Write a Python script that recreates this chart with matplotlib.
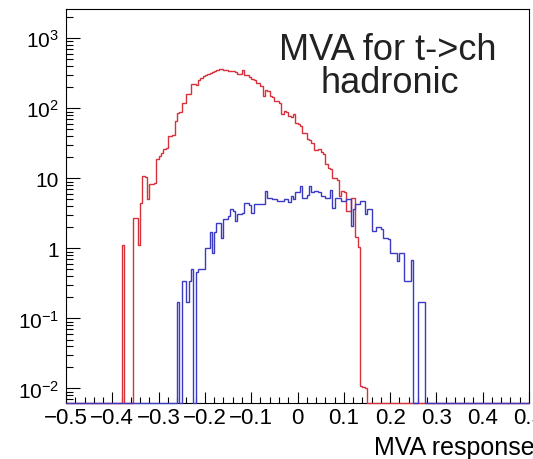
import numpy as np
import matplotlib
matplotlib.use("Agg")
import matplotlib.pyplot as plt
from matplotlib.ticker import FixedLocator, NullFormatter

plt.rcParams['font.family'] = ['Liberation Sans', 'DejaVu Sans']
plt.rcParams['mathtext.fontset'] = 'custom'
plt.rcParams['mathtext.rm'] = 'Liberation Sans'
plt.rcParams['mathtext.default'] = 'regular'

# binning of the MVA output histograms
n_bins = 200
x_lo, x_hi = -0.5, 0.5

# background (red), counts per bin starting at bkg_first_bin
bkg_first_bin = 24
bkg_counts = [1.1, 0, 0, 0, 0, 2.7, 2.7, 1.1, 4.5, 10.8,
              10.5, 5.0, 8.2, 8.2, 8.5, 18.6, 21, 23, 26, 27,
              40, 40, 42, 66, 87, 88, 120, 118, 162, 160,
              220, 222, 218, 250, 274, 290, 300, 306, 315, 330,
              345, 355, 362, 360, 358, 355, 345, 341, 338, 325,
              313, 310, 349, 300, 295, 280, 262, 258, 232, 232,
              208, 150, 180, 178, 150, 145, 129, 129, 120, 82,
              92, 90, 77, 74, 82, 62, 60, 56, 45, 44,
              36, 35, 32, 25, 25, 26, 24, 22, 15.8, 14.2,
              13.5, 10.2, 10.0, 9.5, 5.6, 6.5, 6.3, 3.4, 3.4, 5.3,
              5.3, 1.47, 1.03, 0.011, 0.0105, 0.010]

# signal (blue), counts per bin starting at sig_first_bin
sig_first_bin = 48
sig_counts = [0.17, 0, 0.34, 0.34, 0.17, 0.34, 0.5, 0, 0.46, 0.5,
              0.5, 0.5, 1.0, 1.0, 1.7, 0.87, 1.7, 2.3, 2.3, 1.4,
              2.6, 2.6, 2.9, 3.6, 3.4, 2.5, 3.1, 3.1, 3.2, 4.5,
              4.5, 4.1, 3.2, 4.3, 4.3, 4.3, 4.3, 4.3, 6.5, 5.2,
              5.2, 5.0, 5.0, 4.7, 4.7, 4.7, 5.0, 5.0, 4.6, 5.6,
              5.0, 6.3, 6.3, 7.8, 5.3, 5.3, 5.8, 7.8, 6.3, 6.6,
              6.6, 6.3, 5.6, 5.6, 5.3, 5.3, 6.9, 3.8, 5.2, 5.2,
              5.3, 4.7, 4.7, 5.0, 5.0, 2.1, 3.6, 4.3, 4.3, 4.7,
              4.7, 3.1, 3.6, 3.6, 1.8, 1.8, 2.0, 2.0, 1.9, 1.4,
              1.4, 1.35, 0.87, 0.87, 0.87, 0.65, 0.87, 0.87, 0.34, 0.34,
              0.34, 0.69, 0, 0, 0.17, 0.17, 0.17]

y_min, y_max = 0.0062, 2620
x_ticks = [-0.5, -0.4, -0.3, -0.2, -0.1, 0.0, 0.1, 0.2, 0.3, 0.4, 0.5]
x_tick_labels = ['\u22120.5', '\u22120.4', '\u22120.3', '\u22120.2', '\u22120.1',
                 '0', '0.1', '0.2', '0.3', '0.4', '0.5']
y_ticks = [1e-2, 1e-1, 1, 10, 1e2, 1e3]
y_tick_labels = ['$10^{-2}$', '$10^{-1}$', '1', '10', '$10^{2}$', '$10^{3}$']

red = '#d8313b'
blue = '#3a3ac2'


def full_hist(first, counts):
    h = np.zeros(n_bins)
    h[first:first + len(counts)] = counts
    # empty bins are drawn on the frame minimum, like ROOT does
    return np.where(h > 0, h, y_min)


edges = np.linspace(x_lo, x_hi, n_bins + 1)

fig = plt.figure(figsize=(5.33, 4.60), dpi=100)
ax = fig.add_axes([66 / 533, 56 / 460, 463 / 533, 394 / 460])

ax.stairs(full_hist(bkg_first_bin, bkg_counts), edges, baseline=None,
          color=red, lw=1.0, zorder=3, clip_on=False)
ax.stairs(full_hist(sig_first_bin, sig_counts), edges, baseline=None,
          color=blue, lw=1.0, zorder=3, clip_on=False)

ax.set_yscale('log')
ax.set_xlim(x_lo, x_hi)
ax.set_ylim(y_min, y_max)

ax.xaxis.set_major_locator(FixedLocator(x_ticks))
ax.set_xticklabels(x_tick_labels)
ax.xaxis.set_minor_locator(FixedLocator(np.arange(-50, 51, 2) / 100))
ax.yaxis.set_major_locator(FixedLocator(y_ticks))
ax.set_yticklabels(y_tick_labels)
minor_y = [m * 10.0 ** e for e in range(-3, 4) for m in range(2, 10)]
ax.yaxis.set_minor_locator(FixedLocator([v for v in minor_y if y_min < v < y_max]))
ax.yaxis.set_minor_formatter(NullFormatter())

ax.tick_params(axis='both', which='both', direction='in', colors='black',
               width=0.8)
ax.tick_params(axis='x', which='major', length=8, pad=3, labelsize=16)
ax.tick_params(axis='x', which='minor', length=4)
ax.tick_params(axis='y', which='major', length=10, pad=5, labelsize=15)
ax.tick_params(axis='y', which='minor', length=5)
for s in ax.spines.values():
    s.set_linewidth(0.8)

# axis title sits flush with the right end, its last letter runs off the canvas
fig.text(374 / 533, 5 / 460, 'MVA response', ha='left', va='baseline', fontsize=18)
fig.text(388 / 533, 400 / 460, 'MVA for t->ch', ha='center', va='baseline',
         fontsize=26, color='#222222')
fig.text(390 / 533, 367 / 460, 'hadronic', ha='center', va='baseline',
         fontsize=26, color='#222222')

fig.savefig('out.png', dpi=100)
